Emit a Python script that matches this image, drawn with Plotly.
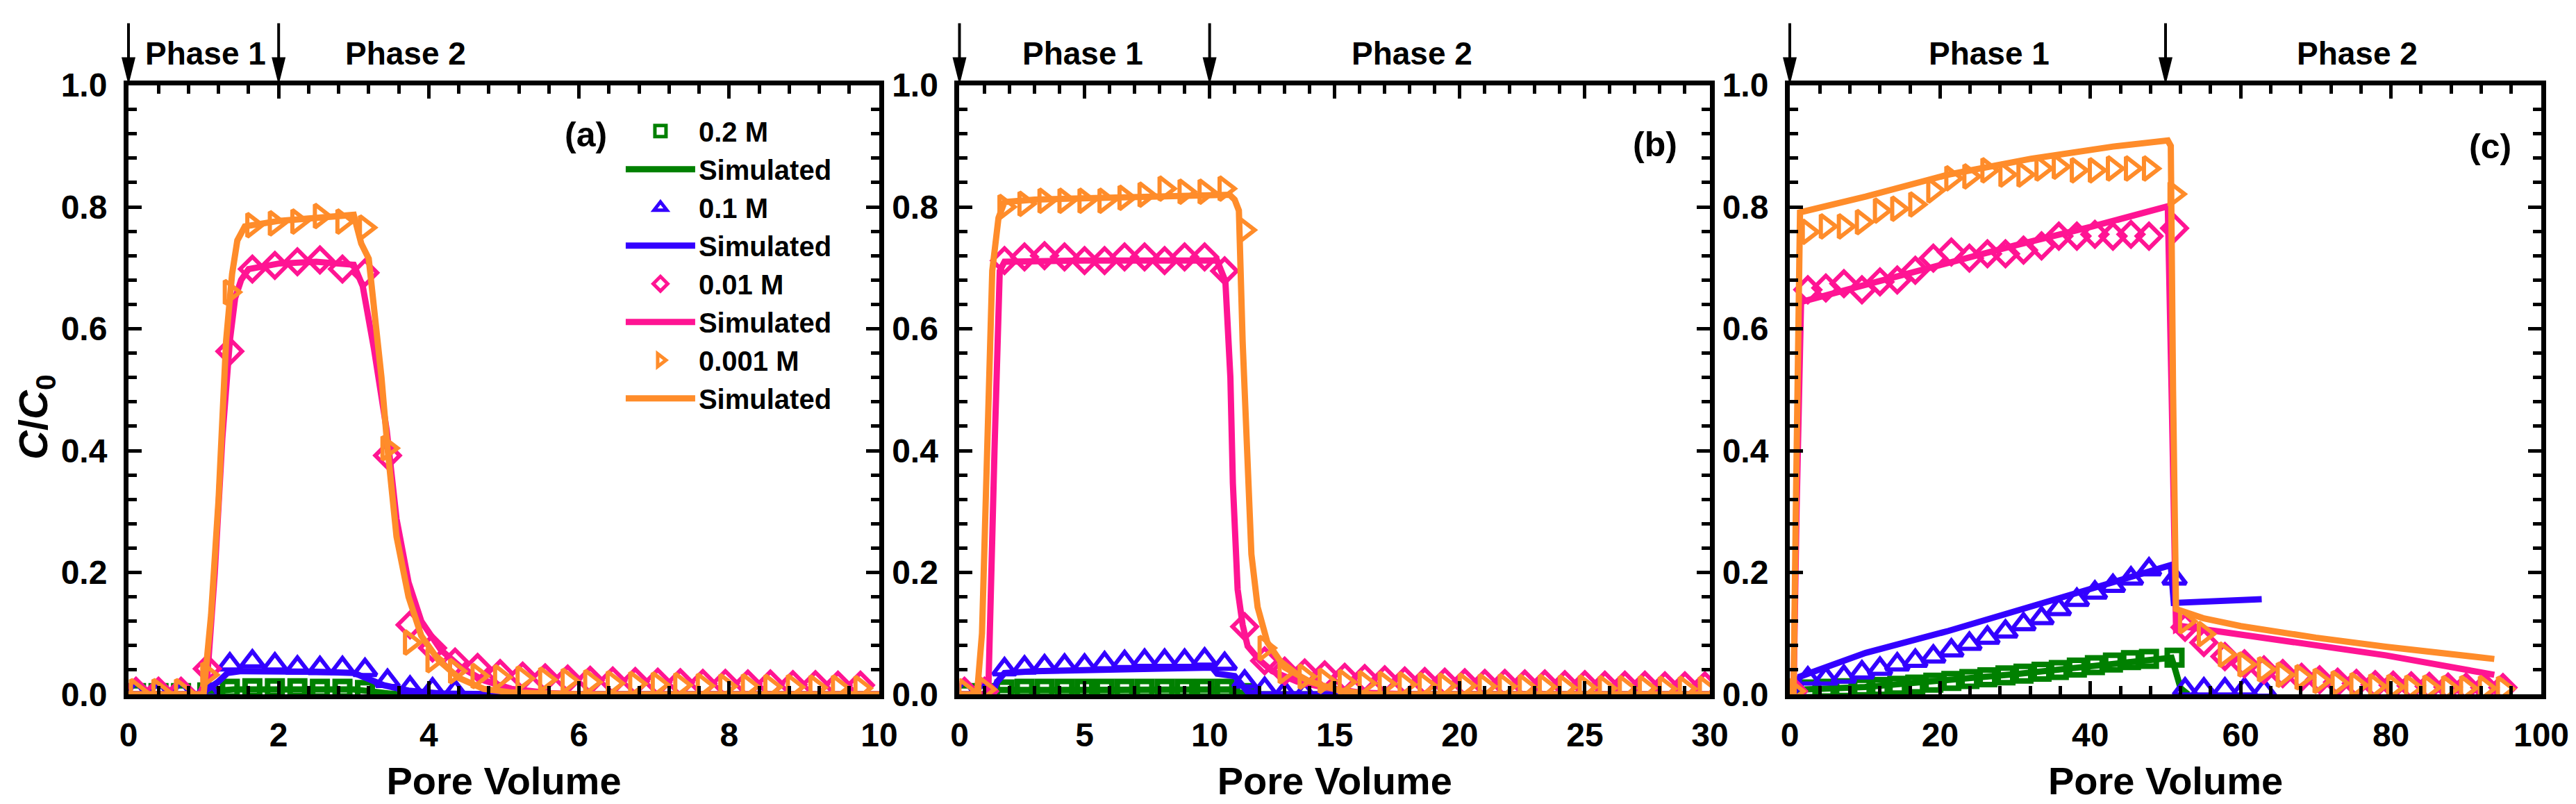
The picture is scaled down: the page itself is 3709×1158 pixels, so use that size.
import plotly.graph_objects as go

FONT = "Liberation Sans, Arial, sans-serif"

# series names / styles (order: 0.2 M, 0.1 M, 0.01 M, 0.001 M)
labels = ["0.2 M", "0.1 M", "0.01 M", "0.001 M"]
colors = ["#008000", "#3300FF", "#FF1493", "#FF8C2A"]
symbols = ["square-open", "triangle-up-open", "diamond-open", "triangle-right-open"]
msizes = [21, 29, 27, 29]
mwidths = [8, 6, 6, 6]

# ---------------- panel (a): measured ----------------
pv_a = [0.1, 0.4, 0.7, 1.05, 1.35, 1.65, 1.95, 2.25, 2.55, 2.85, 3.15, 3.45, 3.75, 4.05,
        4.35, 4.65, 4.95, 5.25, 5.55, 5.85, 6.15, 6.45, 6.75, 7.05, 7.35, 7.65, 7.95,
        8.25, 8.55, 8.85, 9.15, 9.45, 9.75]
pv_a_02 = [0.1, 0.4, 0.7, 1.05, 1.35, 1.65, 1.95, 2.25, 2.55, 2.85, 3.15]
pv_a_01 = [0.1, 0.4, 0.7, 1.05, 1.35, 1.65, 1.95, 2.25, 2.55, 2.85, 3.15, 3.45, 3.75, 4.05, 4.35]
a_02 = [0.002, 0.002, 0.002, 0.003, 0.009, 0.01, 0.01, 0.01, 0.009, 0.009, 0.007]
a_01 = [0.003, 0.003, 0.003, 0.006, 0.049, 0.054, 0.049, 0.044, 0.043, 0.043, 0.04, 0.022,
        0.011, 0.008, 0.005]
a_001 = [0.005, 0.005, 0.005, 0.042, 0.563, 0.698, 0.704, 0.71, 0.713, 0.698, 0.692, 0.392,
         0.114, 0.076, 0.053, 0.044, 0.034, 0.03, 0.027, 0.025, 0.023, 0.022, 0.021, 0.02,
         0.019, 0.018, 0.018, 0.017, 0.017, 0.016, 0.016, 0.015, 0.015]
a_0001 = [0.005, 0.005, 0.005, 0.032, 0.66, 0.77, 0.773, 0.776, 0.785, 0.776, 0.766, 0.404,
          0.085, 0.056, 0.038, 0.03, 0.028, 0.026, 0.024, 0.022, 0.02, 0.018, 0.017, 0.016,
          0.015, 0.014, 0.013, 0.013, 0.012, 0.012, 0.011, 0.011, 0.01]

# panel (a): simulated
sa_x_02 = [0, 1.0, 1.2, 1.4, 3.0, 3.2, 3.5, 4.0, 10.0]
sa_y_02 = [0, 0, 0.006, 0.008, 0.008, 0.005, 0.001, 0, 0]
sa_x_01 = [0, 0.96, 1.19, 1.32, 1.5, 2.0, 2.5, 3.0, 3.24, 3.4, 3.73, 4.2, 5.0, 10.0]
sa_y_01 = [0, 0, 0.02, 0.035, 0.038, 0.038, 0.037, 0.035, 0.024, 0.015, 0.006, 0.001, 0, 0]
sa_x_001 = [0, 0.95, 1.05, 1.15, 1.25, 1.35, 1.42, 1.5, 1.6, 2.0, 2.5, 3.0, 3.12, 3.27, 3.44,
            3.57, 3.73, 3.9, 4.16, 4.43, 4.73, 5.1, 5.6, 6.0, 10.0]
sa_y_001 = [0, 0, 0.03, 0.2, 0.42, 0.58, 0.65, 0.68, 0.698, 0.707, 0.71, 0.705, 0.67, 0.567,
            0.433, 0.288, 0.184, 0.12, 0.073, 0.044, 0.023, 0.009, 0.002, 0, 0]
sa_x_0001 = [0, 1.0, 1.1, 1.2, 1.3, 1.38, 1.45, 1.55, 2.0, 2.5, 3.0, 3.1, 3.2, 3.3, 3.37, 3.45,
             3.57, 3.73, 3.9, 4.13, 4.4, 4.73, 5.1, 6.0, 10.0]
sa_y_0001 = [0, 0, 0.13, 0.32, 0.58, 0.69, 0.745, 0.768, 0.777, 0.783, 0.787, 0.74, 0.715, 0.6,
             0.52, 0.404, 0.259, 0.16, 0.096, 0.056, 0.027, 0.009, 0.003, 0, 0]

# ---------------- panel (b): measured ----------------
pv_b = [0.2, 1.0, 1.8, 2.6, 3.4, 4.2, 5.0, 5.8, 6.6, 7.4, 8.2, 9.0, 9.8, 10.6, 11.4, 12.2,
        13.0, 13.8, 14.6, 15.4, 16.2, 17.0, 17.8, 18.6, 19.4, 20.2, 21.0, 21.8, 22.6, 23.4,
        24.2, 25.0, 25.8, 26.6, 27.4, 28.2, 29.0, 29.8]
pv_b_02 = [0.2, 1.0, 1.8, 2.6, 3.4, 4.2, 5.0, 5.8, 6.6, 7.4, 8.2, 9.0, 9.8, 10.6, 11.4]
pv_b_01 = [0.2, 1.0, 1.8, 2.6, 3.4, 4.2, 5.0, 5.8, 6.6, 7.4, 8.2, 9.0, 9.8, 10.6, 11.4, 12.2,
           13.0, 13.8]
b_02 = [0.002, 0.002, 0.008, 0.009, 0.009, 0.009, 0.009, 0.009, 0.009, 0.009, 0.009, 0.009,
        0.009, 0.009, 0.002]
b_01 = [0.005, 0.003, 0.041, 0.044, 0.046, 0.047, 0.047, 0.051, 0.053, 0.055, 0.055, 0.055,
        0.057, 0.05, 0.021, 0.009, 0.003, 0.001]
b_001 = [0.005, 0.005, 0.712, 0.718, 0.72, 0.718, 0.712, 0.712, 0.718, 0.718, 0.712, 0.718,
         0.718, 0.695, 0.111, 0.055, 0.038, 0.035, 0.032, 0.028, 0.026, 0.024, 0.022, 0.021,
         0.02, 0.019, 0.018, 0.018, 0.017, 0.017, 0.016, 0.016, 0.015, 0.015, 0.015, 0.014,
         0.014, 0.014]
b_0001 = [0.005, 0.008, 0.8, 0.805, 0.81, 0.81, 0.81, 0.81, 0.815, 0.82, 0.83, 0.825, 0.825,
          0.83, 0.762, 0.076, 0.038, 0.029, 0.022, 0.02, 0.018, 0.017, 0.016, 0.015, 0.014,
          0.014, 0.013, 0.013, 0.012, 0.012, 0.011, 0.011, 0.01, 0.01, 0.01, 0.009, 0.009, 0.009]

# panel (b): simulated
sb_x_02 = [0, 1.3, 1.6, 10.8, 11.3, 12.0, 30.0]
sb_y_02 = [0, 0, 0.007, 0.008, 0.002, 0, 0]
sb_x_01 = [0, 1.3, 1.5, 1.8, 3.0, 6.0, 9.0, 10.1, 10.3, 11.0, 11.5, 12.0, 30.0]
sb_y_01 = [0, 0, 0.02, 0.035, 0.038, 0.04, 0.043, 0.044, 0.034, 0.03, 0.005, 0, 0]
sb_x_001 = [0, 1.15, 1.4, 1.61, 1.8, 5.0, 10.3, 10.63, 10.83, 10.93, 11.12, 11.32, 11.52, 12.0,
            12.5, 13.5, 14.5, 16.0, 18.0, 30.0]
sb_y_001 = [0, 0, 0.4, 0.695, 0.71, 0.712, 0.712, 0.678, 0.52, 0.346, 0.172, 0.114, 0.079,
            0.056, 0.038, 0.021, 0.012, 0.003, 0, 0]
sb_x_0001 = [0, 0.7, 0.9, 1.11, 1.31, 1.56, 1.8, 3.0, 5.0, 7.0, 9.0, 10.8, 11.0, 11.17, 11.32,
             11.52, 11.67, 11.92, 12.31, 13.0, 14.0, 15.2, 16.5, 30.0]
sb_y_0001 = [0, 0, 0.1, 0.404, 0.695, 0.782, 0.808, 0.812, 0.814, 0.816, 0.818, 0.82, 0.812,
             0.794, 0.579, 0.404, 0.23, 0.143, 0.085, 0.044, 0.021, 0.006, 0, 0]

# ---------------- panel (c): measured ----------------
pv_c = [0.5, 2.4, 4.8, 7.2, 9.6, 12.0, 14.3, 16.7, 19.1, 21.5, 23.9, 26.3, 28.7, 31.1, 33.5,
        35.8, 38.2, 40.6, 43.0, 45.4, 47.8, 51.2, 52.6, 55.1, 57.9, 60.5, 63.1, 65.6, 68.1,
        70.5, 72.9, 75.4, 77.9, 80.3, 82.7, 85.1, 87.6, 90.0, 92.5, 94.9]
pv_c_02 = [0.5, 2.4, 4.8, 7.2, 9.6, 12.0, 14.3, 16.7, 19.1, 21.5, 23.9, 26.3, 28.7, 31.1, 33.5,
           35.8, 38.2, 40.6, 43.0, 45.4, 47.8, 51.2]
pv_c_01 = [0.5, 2.4, 4.8, 7.2, 9.6, 12.0, 14.3, 16.7, 19.1, 21.5, 23.9, 26.3, 28.7, 31.1, 33.5,
           35.8, 38.2, 40.6, 43.0, 45.4, 47.8, 51.2, 52.6, 55.1, 57.9, 60.5, 63.1]
c_02 = [0.003, 0.008, 0.009, 0.01, 0.011, 0.012, 0.014, 0.016, 0.019, 0.022, 0.025, 0.028,
        0.031, 0.034, 0.037, 0.04, 0.044, 0.048, 0.052, 0.056, 0.058, 0.06]
c_01 = [0.005, 0.026, 0.026, 0.029, 0.036, 0.042, 0.049, 0.055, 0.062, 0.072, 0.083, 0.093,
        0.103, 0.115, 0.125, 0.14, 0.155, 0.167, 0.178, 0.19, 0.205, 0.19, 0.008, 0.008, 0.008,
        0.008, 0.006]
c_001 = [0.005, 0.664, 0.667, 0.674, 0.664, 0.677, 0.68, 0.696, 0.716, 0.726, 0.716, 0.723,
         0.723, 0.729, 0.736, 0.752, 0.752, 0.755, 0.752, 0.755, 0.752, 0.765, 0.11, 0.085,
         0.062, 0.05, 0.04, 0.034, 0.028, 0.024, 0.02, 0.018, 0.016, 0.015, 0.014, 0.013,
         0.012, 0.012, 0.011, 0.011]
c_0001 = [0.005, 0.759, 0.768, 0.768, 0.775, 0.794, 0.797, 0.804, 0.827, 0.847, 0.85, 0.86,
          0.853, 0.853, 0.863, 0.866, 0.86, 0.86, 0.863, 0.863, 0.863, 0.821, 0.12, 0.099,
          0.065, 0.049, 0.041, 0.032, 0.028, 0.022, 0.018, 0.015, 0.013, 0.012, 0.011, 0.011,
          0.01, 0.01, 0.01, 0.009]

# panel (c): simulated
sc_x_02 = [0, 0.6, 1.2, 2.0, 10.0, 20.0, 30.0, 40.0, 50.0, 50.8, 51.3, 52.0, 53.0]
sc_y_02 = [0, 0, 0.006, 0.008, 0.012, 0.022, 0.033, 0.046, 0.058, 0.06, 0.04, 0.01, 0]
sc_x_01 = [0, 0.6, 1.36, 10.1, 21.1, 32.1, 43.0, 50.7, 51.1, 56.5, 62.8]
sc_y_01 = [0, 0, 0.029, 0.068, 0.104, 0.144, 0.186, 0.212, 0.15, 0.153, 0.156]
sc_x_001 = [0, 0.5, 0.9, 1.5, 10.0, 20.0, 30.0, 40.0, 50.3, 50.8, 51.4, 52.1, 63.5, 79.3, 93.75]
sc_y_001 = [0, 0, 0.3, 0.644, 0.672, 0.705, 0.737, 0.767, 0.801, 0.5, 0.107, 0.112, 0.092,
            0.064, 0.032]
sc_x_0001 = [0, 0.5, 0.8, 1.36, 10.1, 21.1, 32.1, 43.0, 50.3, 50.7, 51.0, 51.4, 52.1, 55.0,
             60.0, 63.5, 70.0, 79.3, 90.0, 93.75]
sc_y_0001 = [0, 0, 0.3, 0.791, 0.817, 0.853, 0.879, 0.899, 0.909, 0.9, 0.5, 0.14, 0.137, 0.125,
             0.112, 0.105, 0.093, 0.078, 0.063, 0.058]

# phase boundaries (pore volume) and phase label positions
phase_switch = [2, 10, 50]
x_max = [10, 30, 100]
phase1_pos = [1.03, 4.93, 26.5]
phase2_pos = [3.69, 18.1, 75.5]
panel_tags = ["(a)", "(b)", "(c)"]
tag_pos = [(6.09, 0.918), (27.8, 0.903), (93.2, 0.899)]

panels = [
    ([(pv_a_02, a_02), (pv_a_01, a_01), (pv_a, a_001), (pv_a, a_0001)],
     [(sa_x_02, sa_y_02), (sa_x_01, sa_y_01), (sa_x_001, sa_y_001), (sa_x_0001, sa_y_0001)]),
    ([(pv_b_02, b_02), (pv_b_01, b_01), (pv_b, b_001), (pv_b, b_0001)],
     [(sb_x_02, sb_y_02), (sb_x_01, sb_y_01), (sb_x_001, sb_y_001), (sb_x_0001, sb_y_0001)]),
    ([(pv_c_02, c_02), (pv_c_01, c_01), (pv_c, c_001), (pv_c, c_0001)],
     [(sc_x_02, sc_y_02), (sc_x_01, sc_y_01), (sc_x_001, sc_y_001), (sc_x_0001, sc_y_0001)]),
]

fig = go.Figure()

for k, (meas, sims) in enumerate(panels):
    xa = "x" if k == 0 else "x%d" % (k + 1)
    ya = "y" if k == 0 else "y%d" % (k + 1)
    for i in range(4):
        fig.add_trace(go.Scatter(
            x=meas[i][0], y=meas[i][1], mode="markers", name=labels[i],
            marker=dict(symbol=symbols[i], size=msizes[i], color=colors[i],
                        line=dict(width=mwidths[i], color=colors[i])),
            xaxis=xa, yaxis=ya, showlegend=(k == 0)))
        fig.add_trace(go.Scatter(
            x=sims[i][0], y=sims[i][1], mode="lines", name="Simulated",
            line=dict(color=colors[i], width=9),
            xaxis=xa, yaxis=ya, showlegend=(k == 0)))

tickfont = dict(family=FONT, size=48, color="black", weight="bold")
common = dict(showline=True, linecolor="black", linewidth=7, mirror="allticks",
              ticks="inside", ticklen=19, tickwidth=5, tickcolor="black",
              showgrid=False, zeroline=False, tickfont=tickfont, automargin=False)

x_domains = [[0.04772, 0.33917], [0.37031, 0.66163], [0.69264, 0.98436]]
y_domain = [0.14335, 0.90112]
x_dticks = [2, 5, 20]
x_minor = [0.4, 1, 4]

layout_axes = {}
for k in range(3):
    sfx = "" if k == 0 else str(k + 1)
    layout_axes["xaxis" + sfx] = dict(
        common, domain=x_domains[k], range=[0, x_max[k]], dtick=x_dticks[k], tick0=0,
        anchor="y" + sfx, ticklabelstandoff=10,
        minor=dict(dtick=x_minor[k], ticks="inside", ticklen=12, tickwidth=5, tickcolor="black"),
        title=dict(text="Pore Volume", standoff=24,
                   font=dict(family=FONT, size=56, color="black", weight="bold")))
    layout_axes["yaxis" + sfx] = dict(
        common, domain=y_domain, range=[0, 1], dtick=0.2, tick0=0, tickformat=".1f",
        anchor="x" + sfx, ticklabelstandoff=14,
        minor=dict(dtick=0.04, ticks="inside", ticklen=12, tickwidth=5, tickcolor="black"))

annotations = [dict(text="<i>C</i>/<i>C</i><sub>0</sub>", xref="paper", yref="paper",
                    x=0.01186, y=0.4879, xanchor="center", yanchor="middle",
                    textangle=-90, showarrow=False,
                    font=dict(family=FONT, size=58, color="black", weight="bold"))]
shapes = []
for k in range(3):
    sfx = "" if k == 0 else str(k + 1)
    for txt, xp in (("Phase 1", phase1_pos[k]), ("Phase 2", phase2_pos[k])):
        annotations.append(dict(text=txt, xref="x" + sfx, yref="paper", x=xp, y=0.940,
                                showarrow=False, xanchor="center", yanchor="middle",
                                font=dict(family=FONT, size=46, color="black", weight="bold")))
    annotations.append(dict(text=panel_tags[k], xref="x" + sfx, yref="y" + sfx,
                            x=tag_pos[k][0], y=tag_pos[k][1], showarrow=False,
                            xanchor="center", yanchor="middle",
                            font=dict(family=FONT, size=50, color="black", weight="bold")))
    # downward arrows marking start of phase 1 and phase 2
    for frac in (0.0, phase_switch[k] / x_max[k]):
        shapes.append(dict(type="line", xref="x%s domain" % sfx, yref="paper",
                           x0=frac, x1=frac, y0=0.978, y1=0.935,
                           line=dict(color="black", width=4)))
        shapes.append(dict(type="path", xref="x%s domain" % sfx, yref="paper",
                           xsizemode="pixel", ysizemode="pixel", xanchor=frac, yanchor=0.9011,
                           path="M-10,40 L10,40 L0,0 Z", fillcolor="black",
                           line=dict(width=0)))

fig.update_layout(
    width=3709, height=1158,
    margin=dict(l=0, r=0, t=0, b=0, autoexpand=False),
    paper_bgcolor="white", plot_bgcolor="white",
    font=dict(family=FONT, color="black"),
    legend=dict(x=0.2394, y=0.872, xanchor="left", yanchor="top",
                bgcolor="rgba(0,0,0,0)", itemwidth=100, tracegroupgap=0,
                font=dict(family=FONT, size=40, color="black", weight="bold")),
    annotations=annotations, shapes=shapes,
    **layout_axes)

fig.write_html("out.html")
